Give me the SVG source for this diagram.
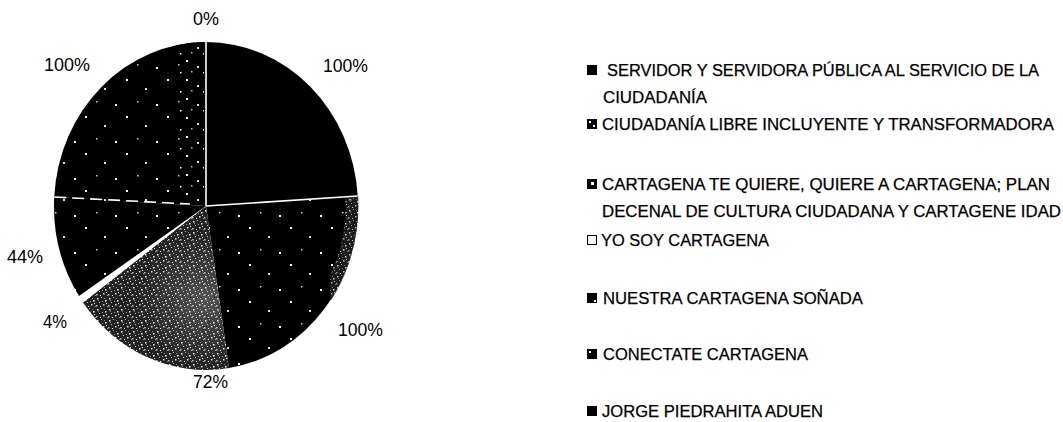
<svg xmlns="http://www.w3.org/2000/svg" width="1063" height="422" viewBox="0 0 1063 422">
<style>
.lbl{font-family:"Liberation Sans",Arial,sans-serif;font-size:18px;fill:#000}
.leg{font-family:"Liberation Sans",Arial,sans-serif;font-size:16px;fill:#000;stroke:#000;stroke-width:0.25}
.sep{stroke:#fff;stroke-width:1.6;fill:none}
</style>
<defs>
<pattern id="sparse" patternUnits="userSpaceOnUse" width="41" height="37">
<rect width="41" height="37" fill="#000"/>
<rect x="3" y="5" width="2" height="2" fill="#fff"/>
<rect x="22" y="14" width="2" height="2" fill="#ddd"/>
<rect x="33" y="30" width="2" height="2" fill="#fff"/>
<rect x="14" y="27" width="1.5" height="1.5" fill="#ccc"/>
</pattern>
<pattern id="mid" patternUnits="userSpaceOnUse" width="23" height="19">
<rect width="23" height="19" fill="#000"/>
<rect x="2" y="3" width="2" height="2" fill="#fff"/>
<rect x="13" y="9" width="2" height="2" fill="#ddd"/>
<rect x="19" y="15" width="1.5" height="1.5" fill="#fff"/>
<rect x="7" y="14" width="1.5" height="1.5" fill="#bbb"/>
</pattern>
<pattern id="dense" patternUnits="userSpaceOnUse" width="12" height="11">
<rect width="12" height="11" fill="#222"/>
<rect x="1" y="1" width="1.5" height="1.5" fill="#eee"/>
<rect x="5" y="0" width="1" height="1" fill="#aaa"/>
<rect x="9" y="3" width="1.5" height="1.5" fill="#fff"/>
<rect x="3" y="5" width="1" height="1" fill="#ccc"/>
<rect x="7" y="7" width="1.5" height="1.5" fill="#ddd"/>
<rect x="11" y="9" width="1" height="1" fill="#999"/>
<rect x="0" y="8" width="1.5" height="1.5" fill="#bbb"/>
<rect x="4" y="9" width="1" height="1" fill="#fff"/>
<rect x="8" y="1" width="1" height="1" fill="#888"/>
<rect x="10" y="6" width="1" height="1" fill="#eee"/>
<rect x="2" y="3" width="1" height="1" fill="#777"/>
<rect x="6" y="4" width="1" height="1" fill="#999"/>
</pattern>
<radialGradient id="glow" cx="205" cy="300" r="70" gradientUnits="userSpaceOnUse">
<stop offset="0" stop-color="#fff" stop-opacity="0.22"/>
<stop offset="1" stop-color="#fff" stop-opacity="0"/>
</radialGradient>
<clipPath id="c2"><path d="M330,196 L360,196 L360,300 L330,300 Z"/></clipPath>
<clipPath id="c6"><path d="M206,206 L54.2,197 A152,164 0 0 1 206,42 Z"/></clipPath>
</defs>

<g id="pie">
<g id="slice-servidor"><path d="M206,206 L206,42 A152,164 0 0 1 357.7,196 Z" fill="#000"/></g>
<g id="slice-ciudadania"><path d="M206,206 L357.7,196 A152,164 0 0 1 229,368.1 Z" fill="url(#sparse)"/>
<ellipse cx="206" cy="206" rx="146" ry="158" fill="none" stroke="url(#dense)" stroke-width="13" clip-path="url(#c2)" opacity="0.8"/></g>
<g id="slice-cartagena-te-quiere"><path d="M206,206 L229,368.1 A152,164 0 0 1 83,302.4 Z" fill="url(#dense)"/>
<path d="M206,206 L229,368.1 A152,164 0 0 1 83,302.4 Z" fill="url(#glow)"/></g>
<g id="slice-yo-soy"><path d="M206,206 L83,302.4 A152,164 0 0 1 79,296.1 Z" fill="#fff"/></g>
<g id="slice-nuestra"><path d="M206,206 L79,296.1 A152,164 0 0 1 54.2,197 Z" fill="url(#sparse)"/></g>
<g id="slice-conectate"><path d="M206,206 L54.2,197 A152,164 0 0 1 206,42 Z" fill="url(#sparse)"/>
<rect x="180" y="42" width="24" height="160" fill="url(#mid)" clip-path="url(#c6)"/></g>
<g id="separators">
<line class="sep" x1="206" y1="42" x2="206" y2="206"/>
<line class="sep" x1="206" y1="206" x2="357.7" y2="196"/>
<line class="sep" x1="54.2" y1="197" x2="190" y2="204" stroke-dasharray="12 6"/>
</g>
</g>

<g id="data-labels">
<text class="lbl" x="206" y="25" text-anchor="middle">0%</text>
<text class="lbl" x="44" y="71" textLength="46" lengthAdjust="spacingAndGlyphs">100%</text>
<text class="lbl" x="323" y="72" textLength="45" lengthAdjust="spacingAndGlyphs">100%</text>
<text class="lbl" x="338" y="336" textLength="45" lengthAdjust="spacingAndGlyphs">100%</text>
<text class="lbl" x="193" y="388" textLength="35" lengthAdjust="spacingAndGlyphs">72%</text>
<text class="lbl" x="43" y="328" textLength="24" lengthAdjust="spacingAndGlyphs">4%</text>
<text class="lbl" x="7" y="263" textLength="36" lengthAdjust="spacingAndGlyphs">44%</text>
</g>

<g id="legend">
<g id="leg-servidor">
<rect x="587" y="65" width="10" height="10" fill="#000"/>
<text class="leg" x="607" y="76" textLength="432" lengthAdjust="spacingAndGlyphs">SERVIDOR Y SERVIDORA PÚBLICA AL SERVICIO DE LA</text>
<text class="leg" x="603" y="103" textLength="104" lengthAdjust="spacingAndGlyphs">CIUDADANÍA</text>
</g>
<g id="leg-ciudadania">
<rect x="587" y="119" width="10" height="10" fill="#000"/>
<rect x="589" y="121" width="2" height="2" fill="#fff"/><rect x="593" y="125" width="2" height="2" fill="#fff"/>
<text class="leg" x="602" y="130" textLength="452" lengthAdjust="spacingAndGlyphs">CIUDADANÍA LIBRE INCLUYENTE Y TRANSFORMADORA</text>
</g>
<g id="leg-cartagena">
<rect x="587" y="179" width="10" height="10" fill="#000"/>
<rect x="591" y="182" width="3" height="3" fill="#fff"/>
<text class="leg" x="602" y="190" textLength="448" lengthAdjust="spacingAndGlyphs">CARTAGENA TE QUIERE, QUIERE A CARTAGENA; PLAN</text>
<text class="leg" x="602" y="217" textLength="459" lengthAdjust="spacingAndGlyphs">DECENAL DE CULTURA CIUDADANA Y CARTAGENE IDAD</text>
</g>
<g id="leg-yosoy">
<rect x="587.5" y="235.5" width="9" height="9" fill="#fff" stroke="#000" stroke-width="1"/>
<text class="leg" x="601" y="246" textLength="168" lengthAdjust="spacingAndGlyphs">YO SOY CARTAGENA</text>
</g>
<g id="leg-nuestra">
<rect x="587" y="293" width="10" height="10" fill="#000"/>
<rect x="594" y="300" width="2" height="2" fill="#fff"/>
<text class="leg" x="603" y="304" textLength="260" lengthAdjust="spacingAndGlyphs">NUESTRA CARTAGENA SOÑADA</text>
</g>
<g id="leg-conectate">
<rect x="587" y="349" width="10" height="10" fill="#000"/>
<rect x="589" y="351" width="2" height="2" fill="#fff"/>
<text class="leg" x="603" y="360" textLength="205" lengthAdjust="spacingAndGlyphs">CONECTATE CARTAGENA</text>
</g>
<g id="leg-jorge">
<rect x="587" y="406" width="10" height="10" fill="#000"/>
<text class="leg" x="602" y="417" textLength="221" lengthAdjust="spacingAndGlyphs">JORGE PIEDRAHITA ADUEN</text>
</g>
</g>
</svg>
